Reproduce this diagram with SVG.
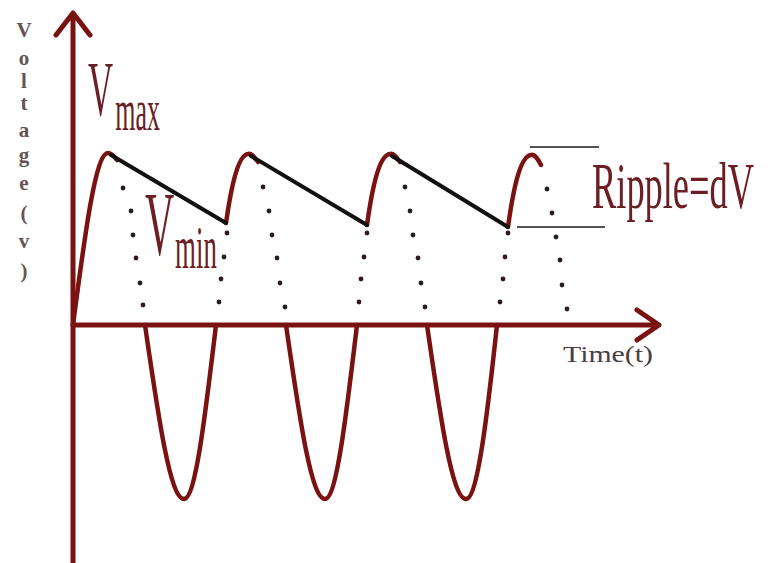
<svg xmlns="http://www.w3.org/2000/svg" width="768" height="563" viewBox="0 0 768 563">
<style>
.ax{fill:none;stroke:#7a1212;stroke-width:5;stroke-linecap:round;stroke-linejoin:round}
.wave{fill:none;stroke:#7a1212;stroke-width:4.5;stroke-linecap:round;stroke-linejoin:round}
.dis{fill:none;stroke:#141010;stroke-width:4;stroke-linecap:round}
.thin{stroke:#1a1a1a;stroke-width:1.6}
.dot{fill:#2b1d1d}
.lbl{font-family:"Liberation Serif","Times New Roman",serif;fill:#6b1f24}
.vl{font-family:"Liberation Serif","Times New Roman",serif;fill:#665454;font-size:21px;font-weight:bold;text-anchor:middle}
</style>
<rect width="768" height="563" fill="#ffffff"/>
<g id="axes">
<path class="ax" d="M73,563 V13 M56,35 L73,13 L90,35"/>
<path class="ax" d="M73,325 H659 M637,310 L659,325 L637,340"/>
</g>
<g id="waveform">
<path class="wave" d="M73,325 C84.6,237 95.3,153 108,153 C111,153 114,156 117,160"/>
<path class="wave" d="M226,223 C230,195 237,155 248,154 C252,153 255,158 258,162"/>
<path class="wave" d="M367,225 C371,196 378,155 390,154 C394,153 397,158 400,162"/>
<path class="wave" d="M508,227 C512,198 519,156 531,155 C535,154 538,159 541,165"/>
<path class="wave" d="M145,325 C157.9,413.9 169.9,499 184,499 C195.6,499 205.4,413.9 216,325"/>
<path class="wave" d="M286,325 C298.9,413.9 310.9,499 325,499 C336.6,499 346.4,413.9 357,325"/>
<path class="wave" d="M427,325 C439.9,413.9 451.9,499 466,499 C477.6,499 487.4,413.9 497,325"/>
</g>
<g id="discharge">
<path class="dis" d="M111,155 L226,223 M251,156 L367,225 M392,156 L508,227"/>
</g>
<g id="ripple-lines">
<line class="thin" x1="530" y1="147" x2="599" y2="147"/>
<line class="thin" x1="517" y1="227" x2="605" y2="227"/>
</g>
<g id="dots">
<circle class="dot" cx="123" cy="188" r="2.4"/><circle class="dot" cx="131" cy="211" r="2.4"/><circle class="dot" cx="133" cy="235" r="2.4"/><circle class="dot" cx="136" cy="258" r="2.4"/><circle class="dot" cx="140" cy="283" r="2.4"/><circle class="dot" cx="143" cy="305" r="2.4"/>
<circle class="dot" cx="263" cy="187" r="2.4"/><circle class="dot" cx="269" cy="211" r="2.4"/><circle class="dot" cx="272" cy="235" r="2.4"/><circle class="dot" cx="277" cy="258" r="2.4"/><circle class="dot" cx="280" cy="283" r="2.4"/><circle class="dot" cx="285" cy="307" r="2.4"/>
<circle class="dot" cx="405" cy="187" r="2.4"/><circle class="dot" cx="410" cy="211" r="2.4"/><circle class="dot" cx="413" cy="235" r="2.4"/><circle class="dot" cx="418" cy="258" r="2.4"/><circle class="dot" cx="421" cy="283" r="2.4"/><circle class="dot" cx="425" cy="307" r="2.4"/>
<circle class="dot" cx="547" cy="189" r="2.4"/><circle class="dot" cx="552" cy="213" r="2.4"/><circle class="dot" cx="556" cy="237" r="2.4"/><circle class="dot" cx="560" cy="260" r="2.4"/><circle class="dot" cx="562" cy="285" r="2.4"/><circle class="dot" cx="567" cy="309" r="2.4"/>
<circle class="dot" cx="227" cy="233" r="2.4"/><circle class="dot" cx="224" cy="257" r="2.4"/><circle class="dot" cx="221" cy="279" r="2.4"/><circle class="dot" cx="219" cy="302" r="2.4"/>
<circle class="dot" cx="367" cy="233" r="2.4"/><circle class="dot" cx="364" cy="257" r="2.4"/><circle class="dot" cx="361" cy="279" r="2.4"/><circle class="dot" cx="359" cy="302" r="2.4"/>
<circle class="dot" cx="508" cy="233" r="2.4"/><circle class="dot" cx="505" cy="257" r="2.4"/><circle class="dot" cx="503" cy="279" r="2.4"/><circle class="dot" cx="500" cy="302" r="2.4"/>
</g>
<g id="label-vmax">
<text class="lbl" transform="translate(88,115) scale(0.44,1)" font-size="79">V<tspan font-size="59" dx="5" dy="15">max</tspan></text>
</g>
<g id="label-vmin">
<text class="lbl" transform="translate(145,255) scale(0.44,1)" font-size="92">V<tspan font-size="61" dx="2" dy="13">min</tspan></text>
</g>
<g id="label-ripple">
<text class="lbl" transform="translate(592,208) scale(0.56,1)" font-size="65">Ripple=dV</text>
</g>
<g id="label-time">
<text x="563" y="362" font-size="24" textLength="90" lengthAdjust="spacingAndGlyphs" style="font-family:'Liberation Serif','Times New Roman',serif;fill:#4a3f3f">Time(t)</text>
</g>
<g id="label-voltage">
<text class="vl" x="24" y="37">V</text>
<text class="vl" x="24" y="65">o</text>
<text class="vl" x="24" y="88">l</text>
<text class="vl" x="24" y="110">t</text>
<text class="vl" x="24" y="137">a</text>
<text class="vl" x="24" y="162">g</text>
<text class="vl" x="24" y="190">e</text>
<text class="vl" x="24" y="220">(</text>
<text class="vl" x="24" y="248">v</text>
<text class="vl" x="24" y="278">)</text>
</g>
</svg>
